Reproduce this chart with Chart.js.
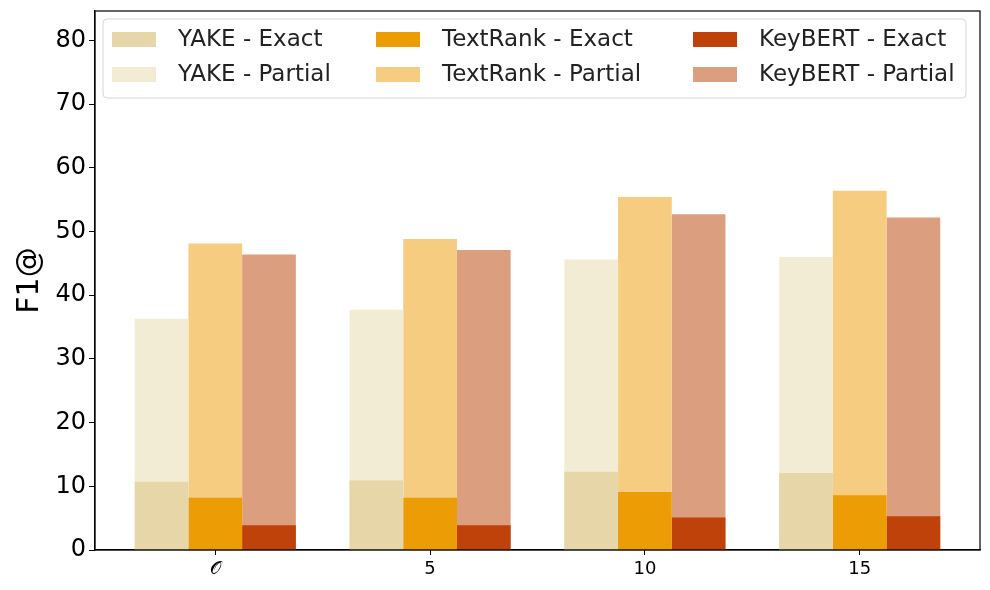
<!DOCTYPE html>
<html>
<head>
<meta charset="utf-8">
<script src="https://cdn.jsdelivr.net/npm/chart.js@4"></script>
<style>
  html, body { margin: 0; padding: 0; background: #fff; }
  #wrap { width: 990px; height: 590px; }
</style>
</head>
<body>
<div id="wrap"><canvas id="f1Chart" width="990" height="590"></canvas></div>
<script>
// ---------- Data ----------
const categories = ['\u{1D4AA}', '5', '10', '15'];
const yakeExact = [10.7, 10.9, 12.3, 12.1];
const yakePartial = [36.3, 37.7, 45.6, 46.0];
const textrankExact = [8.2, 8.2, 9.1, 8.6];
const textrankPartial = [48.1, 48.8, 55.4, 56.4];
const keybertExact = [3.9, 3.9, 5.1, 5.3];
const keybertPartial = [46.4, 47.1, 52.7, 52.2];
const yTicks = [0, 10, 20, 30, 40, 50, 60, 70, 80];

const colors = {
  yakeExact: '#e6d6a8', yakePartial: '#f3ecd5',
  trExact: '#ec9c04', trPartial: '#f5cc80',
  kbExact: '#be4209', kbPartial: '#db9e7f'
};

const FONT = "'DejaVu Sans', sans-serif";

// exact first so they are drawn on top of the partial bars
const datasets = [
  { label: 'YAKE - Exact', data: yakeExact, backgroundColor: colors.yakeExact, stack: 'yake' },
  { label: 'TextRank - Exact', data: textrankExact, backgroundColor: colors.trExact, stack: 'tr' },
  { label: 'KeyBERT - Exact', data: keybertExact, backgroundColor: colors.kbExact, stack: 'kb' },
  { label: 'YAKE - Partial', data: yakePartial, backgroundColor: colors.yakePartial, stack: 'yake' },
  { label: 'TextRank - Partial', data: textrankPartial, backgroundColor: colors.trPartial, stack: 'tr' },
  { label: 'KeyBERT - Partial', data: keybertPartial, backgroundColor: colors.kbPartial, stack: 'kb' }
];

// ---------- Frame + legend inside the axes ----------
const framePlugin = {
  id: 'frame',
  afterDatasetsDraw(chart) {
    const ctx = chart.ctx;
    const a = chart.chartArea;
    ctx.save();
    ctx.strokeStyle = '#000';
    ctx.lineWidth = 1.2;
    ctx.strokeRect(a.left, a.top, a.right - a.left, a.bottom - a.top);

    // legend box
    const bx = a.left + 8, by = a.top + 8, bw = 863, bh = 79;
    ctx.fillStyle = 'rgba(255,255,255,0.8)';
    ctx.strokeStyle = '#d6d6d6';
    ctx.lineWidth = 1;
    ctx.beginPath();
    ctx.roundRect(bx, by, bw, bh, 4);
    ctx.fill();
    ctx.stroke();

    const colX = [bx + 9, bx + 273, bx + 590];
    const rowY = [by + 20, by + 55];
    ctx.font = '23px ' + FONT;
    ctx.textBaseline = 'middle';
    ctx.textAlign = 'left';
    datasets.forEach((d, i) => {
      const col = i % 3, row = Math.floor(i / 3);
      ctx.fillStyle = d.backgroundColor;
      ctx.fillRect(colX[col], rowY[row] - 7, 44, 15);
      ctx.fillStyle = '#222';
      ctx.fillText(d.label, colX[col] + 66, rowY[row] + 1);
    });
    ctx.restore();
  }
};

new Chart(document.getElementById('f1Chart'), {
  type: 'bar',
  data: { labels: categories.map((c, i) => i), datasets },
  options: {
    responsive: false,
    animation: false,
    layout: { padding: { left: 0, right: 10, top: 11, bottom: 0 } },
    datasets: { bar: { categoryPercentage: 0.75, barPercentage: 1.0 } },
    plugins: { legend: { display: false }, tooltip: { enabled: false } },
    scales: {
      x: {
        type: 'linear',
        stacked: true,
        min: -0.56,
        max: 3.56,
        offset: false,
        grid: { display: true, offset: false, drawOnChartArea: false, drawTicks: true, tickLength: 5, color: '#000' },
        border: { display: true, color: '#000', width: 1.2 },
        ticks: {
          color: '#000', font: { family: FONT, size: 18 }, padding: 4,
          callback: v => categories[v]
        },
        afterBuildTicks(scale) { scale.ticks = categories.map((c, i) => ({ value: i })); },
        afterFit(scale) { scale.height = 40; scale.paddingLeft = 0; scale.paddingRight = 0; }
      },
      y: {
        stacked: false,
        min: 0,
        max: 84.6,
        grid: { display: true, drawOnChartArea: false, drawTicks: true, tickLength: 6, color: '#000' },
        border: { display: true, color: '#000', width: 1.2 },
        ticks: { color: '#000', font: { family: FONT, size: 24 }, padding: 3 },
        afterBuildTicks(scale) { scale.ticks = yTicks.map(v => ({ value: v })); },
        title: { display: true, text: 'F1@', color: '#000', font: { family: FONT, size: 30 }, padding: { top: 12, bottom: 0 } },
        afterFit(scale) { scale.width = 95; scale.paddingTop = 0; scale.paddingBottom = 0; }
      }
    }
  },
  plugins: [framePlugin]
});
</script>
</body>
</html>
